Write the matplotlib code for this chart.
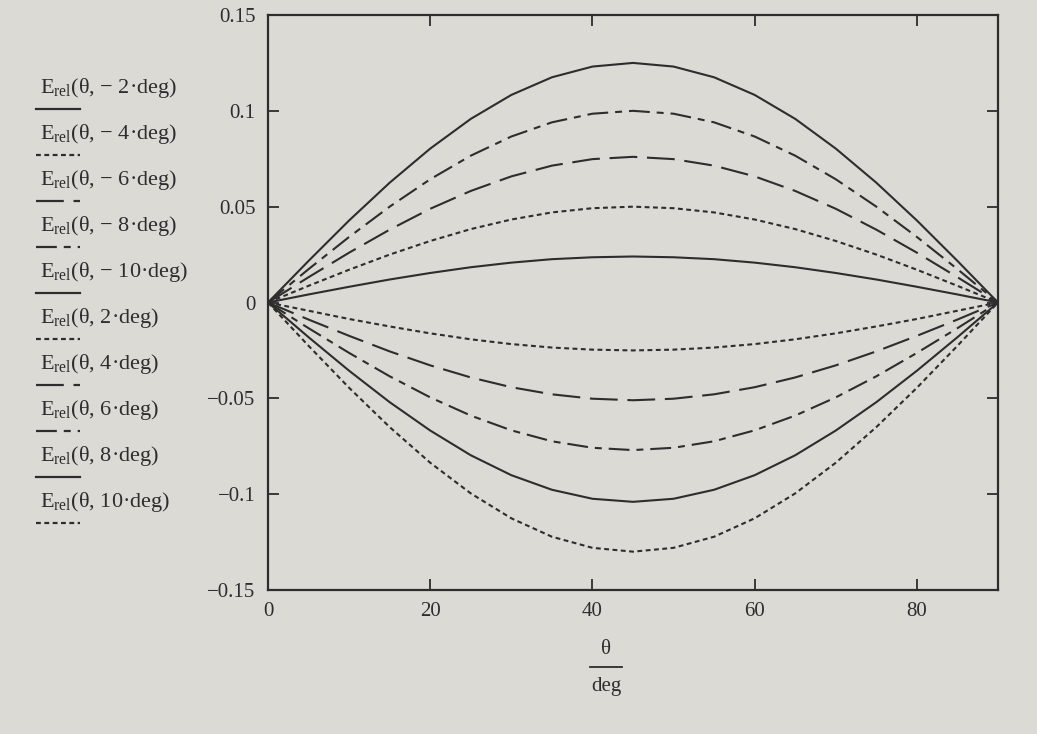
import matplotlib
matplotlib.use("Agg")
import matplotlib.pyplot as plt
from matplotlib.lines import Line2D

plt.rcParams['font.family'] = ['Liberation Serif', 'DejaVu Serif']
plt.rcParams['mathtext.fontset'] = 'custom'
plt.rcParams['mathtext.rm'] = 'Liberation Serif'
plt.rcParams['mathtext.it'] = 'Liberation Serif:italic'
plt.rcParams['lines.scale_dashes'] = False

# ---------------- data ----------------
theta_deg = [0, 5, 10, 15, 20, 25, 30, 35, 40, 45, 50, 55, 60, 65, 70, 75, 80, 85, 90]

E_m2 = [0, 0.0042, 0.0082, 0.0120, 0.0154, 0.0184, 0.0208, 0.0226, 0.0236, 0.0240,
        0.0236, 0.0226, 0.0208, 0.0184, 0.0154, 0.0120, 0.0082, 0.0042, 0]
E_m4 = [0, 0.0087, 0.0171, 0.0250, 0.0321, 0.0383, 0.0433, 0.0470, 0.0492, 0.0500,
        0.0492, 0.0470, 0.0433, 0.0383, 0.0321, 0.0250, 0.0171, 0.0087, 0]
E_m6 = [0, 0.0132, 0.0260, 0.0380, 0.0489, 0.0582, 0.0658, 0.0714, 0.0748, 0.0760,
        0.0748, 0.0714, 0.0658, 0.0582, 0.0489, 0.0380, 0.0260, 0.0132, 0]
E_m8 = [0, 0.0174, 0.0342, 0.0500, 0.0643, 0.0766, 0.0866, 0.0940, 0.0985, 0.1000,
        0.0985, 0.0940, 0.0866, 0.0766, 0.0643, 0.0500, 0.0342, 0.0174, 0]
E_m10 = [0, 0.0217, 0.0428, 0.0625, 0.0803, 0.0958, 0.1083, 0.1175, 0.1231, 0.1250,
         0.1231, 0.1175, 0.1083, 0.0958, 0.0803, 0.0625, 0.0428, 0.0217, 0]
E_p2 = [0, -0.0043, -0.0086, -0.0125, -0.0161, -0.0192, -0.0217, -0.0235, -0.0246, -0.0250,
        -0.0246, -0.0235, -0.0217, -0.0192, -0.0161, -0.0125, -0.0086, -0.0043, 0]
E_p4 = [0, -0.0089, -0.0174, -0.0255, -0.0328, -0.0391, -0.0442, -0.0479, -0.0502, -0.0510,
        -0.0502, -0.0479, -0.0442, -0.0391, -0.0328, -0.0255, -0.0174, -0.0089, 0]
E_p6 = [0, -0.0134, -0.0263, -0.0385, -0.0495, -0.0590, -0.0667, -0.0724, -0.0758, -0.0770,
        -0.0758, -0.0724, -0.0667, -0.0590, -0.0495, -0.0385, -0.0263, -0.0134, 0]
E_p8 = [0, -0.0181, -0.0356, -0.0520, -0.0668, -0.0797, -0.0901, -0.0977, -0.1024, -0.1040,
        -0.1024, -0.0977, -0.0901, -0.0797, -0.0668, -0.0520, -0.0356, -0.0181, 0]
E_p10 = [0, -0.0226, -0.0445, -0.0650, -0.0836, -0.0996, -0.1126, -0.1222, -0.1280, -0.1300,
         -0.1280, -0.1222, -0.1126, -0.0996, -0.0836, -0.0650, -0.0445, -0.0226, 0]

deltas = [-2, -4, -6, -8, -10, 2, 4, 6, 8, 10]
series = [E_m2, E_m4, E_m6, E_m8, E_m10, E_p2, E_p4, E_p6, E_p8, E_p10]
trace_styles = ['solid', 'dot', 'dash', 'dadot', 'solid', 'dot', 'dash', 'dadot', 'solid', 'dot']

x_ticks = [0, 20, 40, 60, 80]
y_ticks = [-0.15, -0.1, -0.05, 0, 0.05, 0.1, 0.15]
y_tick_labels = ['\u22120.15', '\u22120.1', '\u22120.05', '0', '0.05', '0.1', '0.15']

# ---------------- styling ----------------
BG = '#dcdad5'
INK = '#2d2d2d'
DASH = {'solid': '-', 'dot': (0, (3.5, 2.5)), 'dash': (0, (20, 7)), 'dadot': (0, (15, 5, 5, 5))}
FS_TICK = 15
FS_LEG = 16

W, H = 1037, 734
fig = plt.figure(figsize=(W / 100, H / 100), dpi=100, facecolor=BG)
ax = fig.add_axes([268 / W, 1 - 590 / H, (998 - 268) / W, (590 - 15) / H], facecolor=BG)

for vals, st in zip(series, trace_styles):
    ax.plot(theta_deg, vals, color=INK, lw=1.5, linestyle=DASH[st])

ax.set_xlim(0, 90)
ax.set_ylim(-0.15, 0.15)
ax.set_xticks(x_ticks)
ax.set_xticklabels([str(t) for t in x_ticks])
ax.set_yticks(y_ticks)
ax.set_yticklabels(y_tick_labels)
ax.tick_params(direction='in', length=8, width=1.3, colors=INK, labelsize=FS_TICK,
               top=True, right=True, pad=9)
for s in ax.spines.values():
    s.set_color(INK)
    s.set_linewidth(1.6)

# x-axis label as a fraction theta / deg
cx = 606 / W
fig.text(cx, 1 - 650 / H, '\u03b8', ha='center', va='center', fontsize=FS_TICK, color=INK)
fig.add_artist(Line2D([590 / W, 622 / W], [1 - 667 / H, 1 - 667 / H],
                      transform=fig.transFigure, color=INK, lw=1.3))
fig.text(cx, 1 - 686 / H, 'deg', ha='center', va='center', fontsize=FS_TICK, color=INK)

# legend (Mathcad style: trace names with a line sample underneath)
def trace_label(d):
    sign = '\u2212 ' if d < 0 else ''
    return r'$\mathrm{E}_{\mathrm{rel}}$' + f'(\u03b8, {sign}{abs(d)}\u00b7deg)'

x0 = 40
for i, (d, st) in enumerate(zip(deltas, trace_styles)):
    yt = 88 + i * 46
    fig.text(x0 / W, 1 - yt / H, trace_label(d), ha='left', va='center', fontsize=FS_LEG, color=INK)
    ys = 1 - (yt + 21) / H
    fig.add_artist(Line2D([(x0 - 4) / W, (x0 + 40) / W], [ys, ys], transform=fig.transFigure,
                          color=INK, lw=1.6, linestyle=DASH[st]))

fig.savefig('out.png', dpi=100, facecolor=BG)
